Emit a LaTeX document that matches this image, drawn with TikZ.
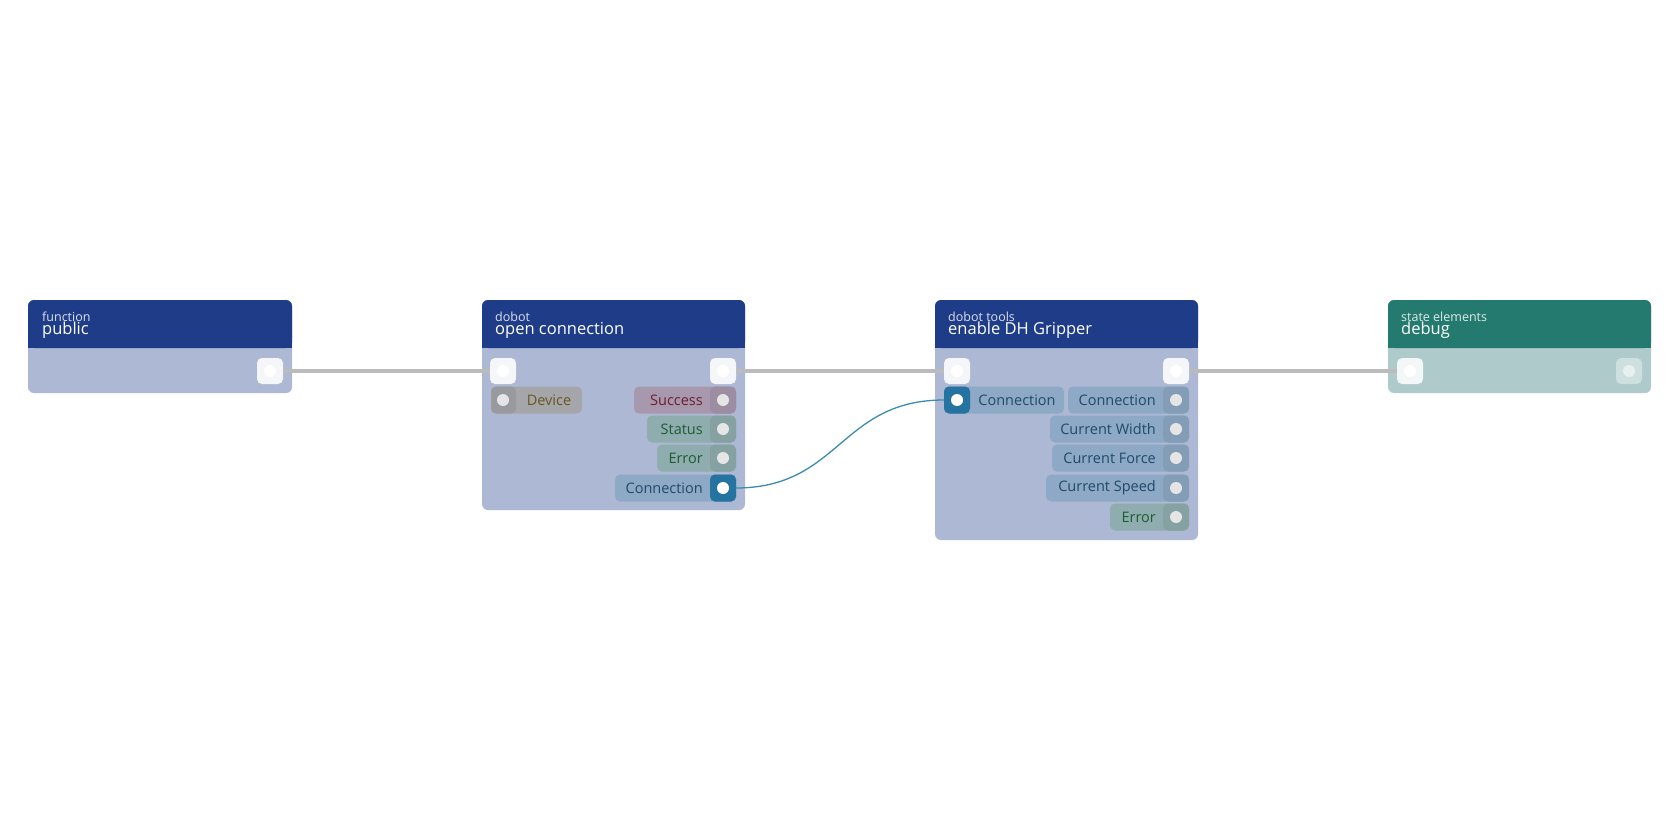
\documentclass[tikz,border=0pt]{standalone}
\usepackage{fontspec}
\setmainfont{Open Sans}
\begin{document}
\begin{tikzpicture}[x=1pt,y=-1pt,
  execp/.style={fill=white!88!bodyC,rounded corners=5pt,minimum width=26pt,minimum height=26pt,inner sep=0pt},
  dot/.style={circle,fill=white,minimum size=12pt,inner sep=0pt},
  sdot/.style={circle,fill=white!80!gray,minimum size=12pt,inner sep=0pt},
  lbl/.style={font=\fontsize{14.5}{14}\selectfont,inner sep=0pt},
  exw/.style={line width=4.5pt,draw=wireC},
  sub/.style={anchor=base west,font=\fontsize{12.5}{12}\selectfont,inner sep=0pt},
  ttl/.style={anchor=base west,text=white,font=\fontsize{16.5}{16}\selectfont,inner sep=0pt},
]
\definecolor{hdrC}{HTML}{1E3C87}
\definecolor{bodyC}{HTML}{ADB8D4}
\definecolor{dhdr}{HTML}{247A6E}
\definecolor{dbody}{HTML}{AECACA}
\definecolor{wireC}{HTML}{BBBBBB}
\definecolor{devC}{HTML}{A4A6AA}
\definecolor{devT}{HTML}{6B5520}
\definecolor{sucC}{HTML}{A898AE}
\definecolor{sucT}{HTML}{6E1E2E}
\definecolor{staC}{HTML}{8FADAE}
\definecolor{staT}{HTML}{1E5A33}
\definecolor{conC}{HTML}{8EA9C5}
\definecolor{conT}{HTML}{1E4A6A}
\definecolor{hiC}{HTML}{2573A0}
\definecolor{curveC}{HTML}{3C8CAE}
\useasboundingbox[fill=white] (0,0) rectangle (1680,840);

\newcommand{\pillR}[8]{%
  \fill[#5,rounded corners=5pt] (#2,#4-13.5) rectangle (#3,#4+13.5);
  \fill[#5!93!black,rounded corners=5pt] (#7-13,#4-13.5) rectangle (#3,#4+13.5);
  \node[sdot] (#1) at (#7,#4) {};
  \node[lbl,text=#8,anchor=east] (#1t) at (#7-20,#4) {#6};}
\newcommand{\pillL}[8]{%
  \fill[#5,rounded corners=5pt] (#2,#4-13.5) rectangle (#3,#4+13.5);
  \fill[#5!93!black,rounded corners=5pt] (#2,#4-13.5) rectangle (#7+13,#4+13.5);
  \node[sdot] (#1) at (#7,#4) {};
  \node[lbl,text=#8,anchor=center] (#1t) at ({(#7+13+#3)/2},#4) {#6};}

% box1
\fill[bodyC,rounded corners=6pt] (28,300) rectangle (292,393);
\fill[hdrC,rounded corners=6pt] (28,300) rectangle (292,348);
\fill[hdrC] (28,330) rectangle (292,348);
\node[sub,text=white!85!hdrC] (h1a) at (42,321) {function};
\node[ttl] (h1b) at (42,334) {public};
\node[execp] (p1o) at (270,371) {}; \node[dot] at (p1o) {};

% box2
\fill[bodyC,rounded corners=6pt] (482,300) rectangle (745,510);
\fill[hdrC,rounded corners=6pt] (482,300) rectangle (745,348);
\fill[hdrC] (482,330) rectangle (745,348);
\node[sub,text=white!85!hdrC] (h2a) at (495,321) {dobot};
\node[ttl] (h2b) at (495,334) {open connection};
\node[execp] (p2i) at (503,371) {}; \node[dot] at (p2i) {};
\node[execp] (p2o) at (723,371) {}; \node[dot] at (p2o) {};
\pillL{dev}{491}{582}{400}{devC}{Device}{503}{devT}
\pillR{suc}{634}{736}{400}{sucC}{Success}{723}{sucT}
\pillR{sta}{647}{736}{429}{staC}{Status}{723}{staT}
\pillR{err}{657}{736}{458}{staC}{Error}{723}{staT}
\pillR{con}{615}{736}{488}{conC}{Connection}{723}{conT}
\fill[hiC,rounded corners=5pt] (710,474.5) rectangle (736,501.5);
\node[dot] (conP) at (723,488) {};

% box3
\fill[bodyC,rounded corners=6pt] (935,300) rectangle (1198,540);
\fill[hdrC,rounded corners=6pt] (935,300) rectangle (1198,348);
\fill[hdrC] (935,330) rectangle (1198,348);
\node[sub,text=white!85!hdrC] (h3a) at (948,321) {dobot tools};
\node[ttl] (h3b) at (948,334) {enable DH Gripper};
\node[execp] (p3i) at (957,371) {}; \node[dot] at (p3i) {};
\node[execp] (p3o) at (1176,371) {}; \node[dot] at (p3o) {};
\pillL{cin}{944}{1064}{400}{conC}{Connection}{957}{conT}
\fill[hiC,rounded corners=5pt] (944,386.5) rectangle (970,413.5);
\node[dot] (cinP) at (957,400) {};
\pillR{co1}{1068}{1189}{400}{conC}{Connection}{1176}{conT}
\pillR{co2}{1050}{1189}{429}{conC}{Current Width}{1176}{conT}
\pillR{co3}{1052}{1189}{458}{conC}{Current Force}{1176}{conT}
\pillR{co4}{1046}{1189}{488}{conC}{Current Speed}{1176}{conT}
\pillR{co5}{1110}{1189}{517}{staC}{Error}{1176}{staT}

% box4
\fill[dbody,rounded corners=6pt] (1388,300) rectangle (1651,393);
\fill[dhdr,rounded corners=6pt] (1388,300) rectangle (1651,348);
\fill[dhdr] (1388,330) rectangle (1651,348);
\node[sub,text=white!85!dhdr] (h4a) at (1401,321) {state elements};
\node[ttl] (h4b) at (1401,334) {debug};
\node[execp,fill=white!85!dbody] (p4i) at (1410,371) {}; \node[dot] at (p4i) {};
\node[execp,fill=white!40!dbody] (p4o) at (1629,371) {}; \node[dot,fill=white!70!dbody] at (p4o) {};

% wires
\draw[exw] (p1o.east) -- (p2i.west);
\draw[exw] (p2o.east) -- (p3i.west);
\draw[exw] (p3o.east) -- (p4i.west);
\draw[curveC,line width=1.3pt] (conP.east) ++(6.5,0) .. controls (840,488) and (840,400) .. (944,400);
\end{tikzpicture}
\end{document}
